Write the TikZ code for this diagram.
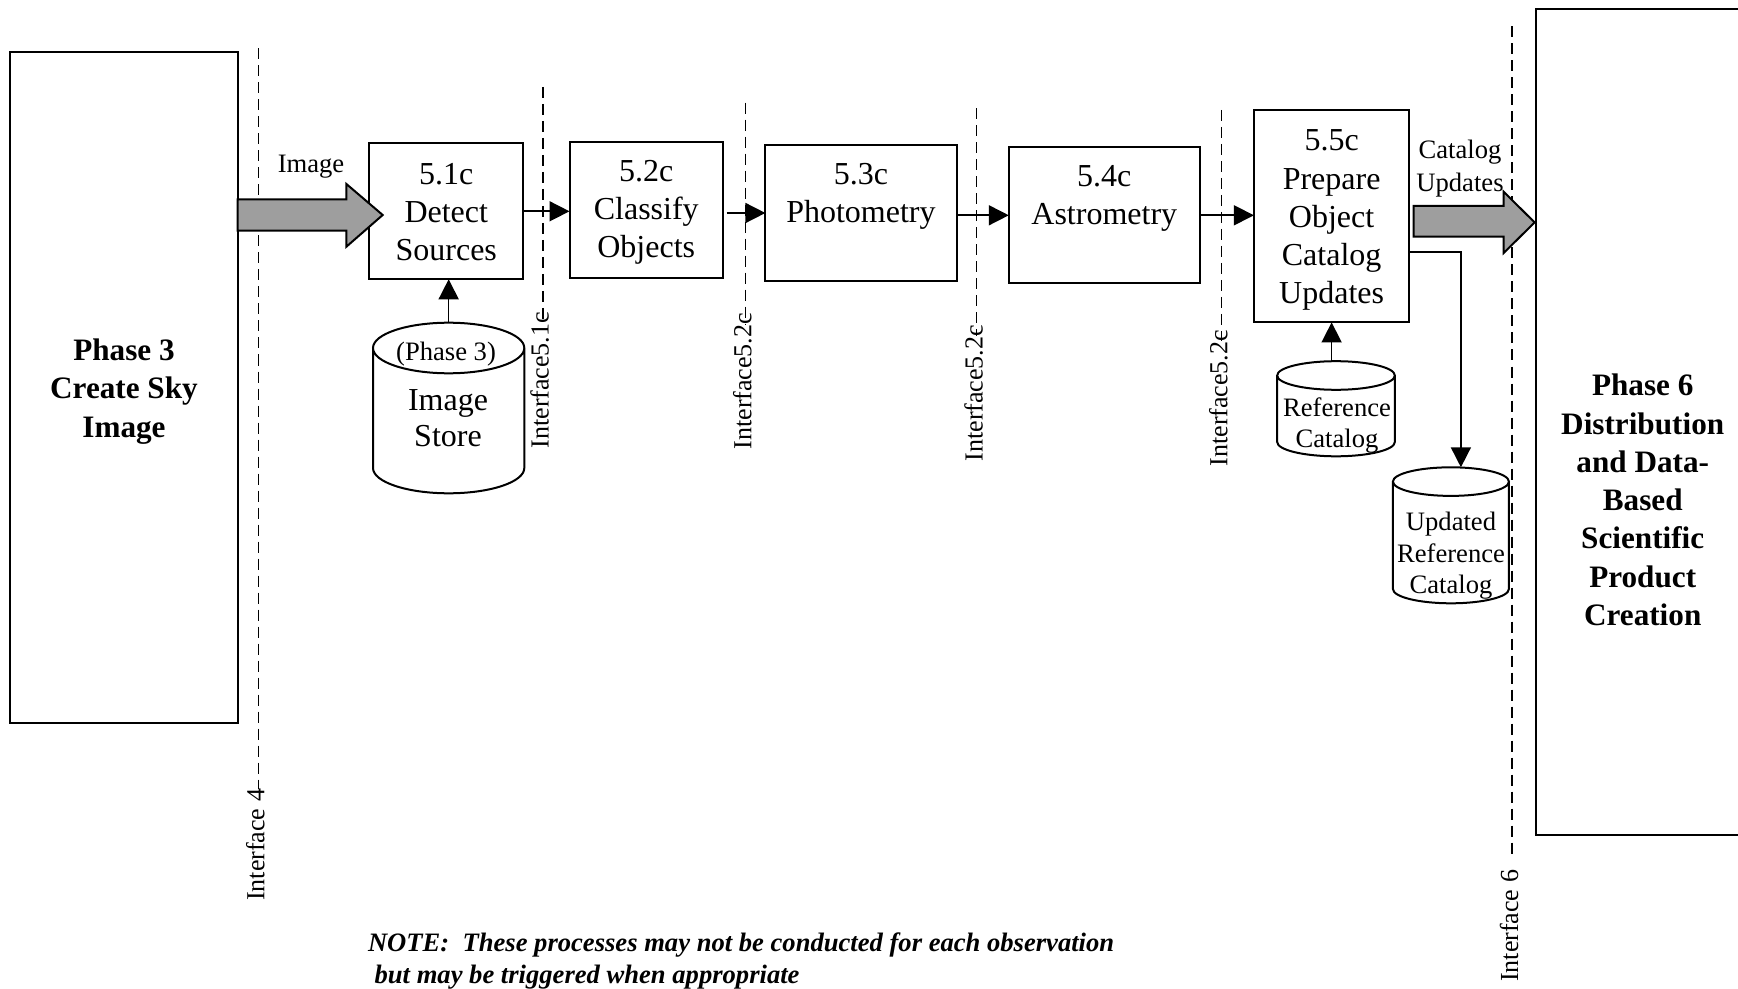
\documentclass[tikz,border=0pt]{standalone}
\usepackage{fontspec}
\setmainfont{Liberation Serif}
\usetikzlibrary{arrows.meta,calc}

% Outline of a database cylinder drawn around a (borderless) node: #1 node name, #2 half height of the caps
\newcommand\dbshape[2]{%
  \draw[dbline] let \p1=(#1.north west), \p2=(#1.south east), \n1={(\x2-\x1)/2} in
    (\x1,\y1-#2) -- (\x1,\y2+#2)
    arc[start angle=180, end angle=360, x radius=\n1, y radius=#2]
    -- (\x2,\y1-#2)
    (\x1+\n1,\y1-#2) ellipse [x radius=\n1, y radius=#2];
}

\begin{document}
\begin{tikzpicture}[x=0.5pt, y=-0.5pt,
  every node/.style={inner sep=0pt, outer sep=0pt},
  pbox/.style 2 args={draw, line width=1pt, minimum width={#1*0.5pt}, minimum height={#2*0.5pt}},
  dbnode/.style 2 args={minimum width={#1*0.5pt}, minimum height={#2*0.5pt}},
  % multi-line texts are placed by the baseline of their last line
  proctext/.style={align=center, anchor=base, font=\fontsize{16}{19.15}\selectfont},
  phasetext/.style={align=center, anchor=base, font=\bfseries\fontsize{15.6}{19.15}\selectfont},
  smalltext/.style={align=center, anchor=base, font=\fontsize{13.3}{15.5}\selectfont},
  notetext/.style={anchor=base west, font=\bfseries\itshape\fontsize{13.3}{16}\selectfont},
  iflab/.style={rotate=90, anchor=east, font=\fontsize{13}{15}\selectfont},
  ifline/.style={line width=0.8pt, dash pattern=on 5.5pt off 3pt},
  conn/.style={line width=0.8pt, -{Triangle[length=10pt,width=10pt]}},
  blockarrow/.style={draw, line width=1pt, fill=black!38, line join=miter},
  dbline/.style={line width=1pt},
]
\useasboundingbox (0,0) rectangle (1738,989);

% ---- phase boxes ----
\node[pbox={227.4}{671.3}] (p3) at (124,387.35) {};
\node[phasetext] (p3t) at (124,437) {Phase 3\\Create Sky\\Image};

\node[pbox={214.4}{826}] (p6) at (1642.8,422) {};
\node[phasetext] (p6t) at (1642.7,625.5) {Phase 6\\Distribution\\and Data-\\Based\\Scientific\\Product\\Creation};

% ---- process boxes ----
\node[pbox={153.9}{136}] (d51) at (446.25,211.3) {};
\node[proctext] (d51t) at (446.25,260.7) {5.1c\\Detect\\Sources};

\node[pbox={153.5}{136}] (c52) at (646.25,209.7) {};
\node[proctext] (c52t) at (646.25,258) {5.2c\\Classify\\Objects};

\node[pbox={191.1}{136}] (p53) at (860.95,213) {};
\node[proctext] (p53t) at (860.95,222.5) {5.3c\\Photometry};

\node[pbox={191}{136}] (a54) at (1104.3,215.3) {};
\node[proctext] (a54t) at (1104.3,225) {5.4c\\Astrometry};

\node[pbox={155.4}{212.2}] (u55) at (1331.6,216.3) {};
\node[proctext] (u55t) at (1331.6,304) {5.5c\\Prepare\\Object\\Catalog\\Updates};

% ---- data stores ----
\node[dbnode={151.3}{170.6}] (is) at (448.65,408) {};
\dbshape{is}{12.65pt}
\node[smalltext] (ist1) at (446,360) {(Phase 3)};
\node[proctext, font=\fontsize{16}{18.35}\selectfont] (ist2) at (448,446.7) {Image\\Store};

\node[dbnode={117.7}{95.1}] (rc) at (1336,408.75) {};
\dbshape{rc}{7.15pt}
\node[smalltext, font=\fontsize{13.3}{15.35}\selectfont] (rct) at (1337,447) {Reference\\Catalog};

\node[dbnode={116}{136}] (uc) at (1450.9,535.3) {};
\dbshape{uc}{7.15pt}
\node[smalltext, font=\fontsize{13.3}{15.8}\selectfont] (uct) at (1451,593.9) {Updated\\Reference\\Catalog};

% ---- interface lines ----
\coordinate (i4t) at (258.3,48.5);
\node[iflab] (i4l) at (255.3,789) {Interface 4};
\draw[ifline] (i4t) -- (i4t |- i4l.east);

\coordinate (i51t) at (542.7,87);
\node[iflab] (i51l) at (539.7,312) {Interface5.1c};
\draw[ifline] (i51t) -- ($(i51t |- i51l.east)+(0,11)$);

\coordinate (i52t) at (745.4,102.7);
\node[iflab] (i52l) at (742.4,313) {Interface5.2c};
\draw[ifline] (i52t) -- ($(i52t |- i52l.east)+(0,11)$);

\coordinate (i53t) at (976.6,108.3);
\node[iflab] (i53l) at (973.6,325) {Interface5.2c};
\draw[ifline] (i53t) -- ($(i53t |- i53l.east)+(0,11)$);

\coordinate (i54t) at (1221.5,110);
\node[iflab] (i54l) at (1218.5,330) {Interface5.2c};
\draw[ifline] (i54t) -- ($(i54t |- i54l.east)+(0,11)$);

\coordinate (i6t) at (1512,26.5);
\node[iflab] (i6l) at (1509,870) {Interface 6};
\draw[ifline] (i6t) -- ($(i6t |- i6l.east)+(0,-16)$);

% ---- flows ----
\coordinate (imgy) at (0,199.3);
\draw[blockarrow] (p3.east |- imgy) -- ++(108.7,0) -- ++(0,-15.3) -- ++(36.3,31)
  -- ++(-36.3,31.7) -- ++(0,-16) -- ++(-108.7,0) -- cycle;
\node[smalltext] (imgl) at (311,173) {Image};

\coordinate (cuy) at (0,206);
\draw[blockarrow] ($(u55.east |- cuy)+(4.2,0)$) -- ++(90.2,0) -- ++(0,-14.2) -- ++(30.9,30.6)
  -- ++(-30.9,30.6) -- ++(0,-16.3) -- ++(-90.2,0) -- cycle;
\node[smalltext, font=\fontsize{13.3}{16.4}\selectfont] (cul) at (1460,191.8) {Catalog\\Updates};

\draw[conn] (d51.east) -- (d51.east -| c52.west);
\draw[conn] ($(c52.east |- p53.west)+(3.6,0)$) -- (p53.west);
\draw[conn] (p53.east |- a54.west) -- (a54.west);
\draw[conn] (a54.east) -- (a54.east -| u55.west);
\draw[conn] (is.north) -- (is.north |- d51.south);
\draw[conn] (u55.south |- rc.north) -- (u55.south);
\draw[conn] ($(u55.east)+(0,36)$) -| ($(uc.north)+(10,0)$);

% ---- note ----
\node[notetext] (note1) at (368,951) {NOTE:\ \ These processes may not be conducted for each observation};
\node[notetext] (note2) at (368,983) {\ but may be triggered when appropriate};
\end{tikzpicture}
\end{document}
